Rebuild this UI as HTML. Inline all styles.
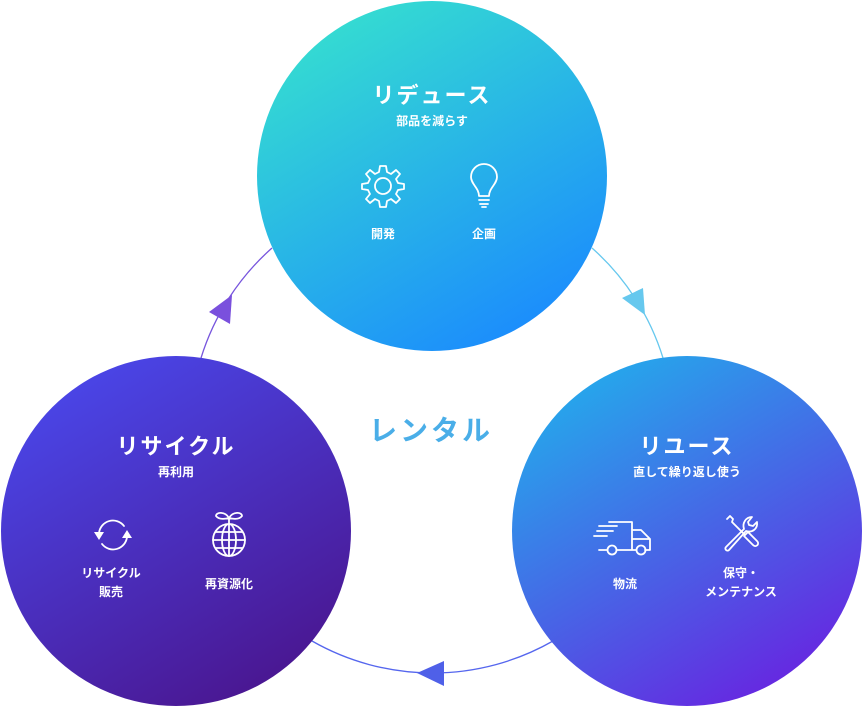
<!DOCTYPE html>
<html><head><meta charset="utf-8"><style>
body{margin:0;background:#fff;}
svg{display:block;font-family:"Liberation Sans","Noto Sans CJK JP",sans-serif;}
.t{font-size:22px;font-weight:bold;fill:#fff;letter-spacing:2px;text-anchor:middle}
.s{font-size:12px;font-weight:bold;fill:#fff;text-anchor:middle}
.l{font-size:12px;font-weight:bold;fill:#fff;text-anchor:middle}
.ic{fill:none;stroke:#fff;stroke-width:1.8;stroke-linecap:round;stroke-linejoin:round}
</style></head><body>
<svg width="863" height="706" viewBox="0 0 863 706">
<defs>
<linearGradient id="g1" x1="0.2" y1="0" x2="0.8" y2="1"><stop offset="0" stop-color="#36e0cf"/><stop offset="1" stop-color="#1a88ff"/></linearGradient>
<linearGradient id="g2" x1="0.2" y1="0" x2="0.8" y2="1"><stop offset="0" stop-color="#4a48ec"/><stop offset="1" stop-color="#4a148c"/></linearGradient>
<linearGradient id="g3" x1="0.2" y1="0" x2="0.8" y2="1"><stop offset="0" stop-color="#22aeec"/><stop offset="1" stop-color="#6a20e0"/></linearGradient>
</defs>
<path d="M272 248 A243 243 0 0 0 201 358" fill="none" stroke="#7755dd" stroke-width="1.3"/>
<path d="M592 248 A243 243 0 0 1 663 358" fill="none" stroke="#66c8ee" stroke-width="1.3"/>
<path d="M312 641 A243 243 0 0 0 553 641" fill="none" stroke="#5566ee" stroke-width="1.3"/>
<polygon points="209,312 232,295 230,324" fill="#7a50dd"/>
<polygon points="622,298 643,288 645,315" fill="#66c8ee"/>
<polygon points="417,673 444,661 444,686" fill="#4f60e8"/>
<circle cx="432" cy="176" r="175" fill="url(#g1)"/>
<circle cx="176" cy="531" r="175" fill="url(#g2)"/>
<circle cx="687" cy="531" r="175" fill="url(#g3)"/>
<text x="431" y="440" font-size="28" font-weight="bold" fill="#4aaee8" text-anchor="middle" letter-spacing="3">レンタル</text>
<text class="t" x="432" y="103">リデュース</text>
<text class="s" x="432" y="125">部品を減らす</text>
<g transform="translate(383,186)">
<path class="ic" d="M-3,-20 L3,-20 L4,-14 L8,-12 L13,-16 L17,-12 L13,-7 L15,-3 L21,-2 L21,3 L15,4 L13,8 L17,13 L13,17 L8,13 L4,15 L3,21 L-3,21 L-4,15 L-8,13 L-13,17 L-17,13 L-13,8 L-15,4 L-21,3 L-21,-2 L-15,-3 L-13,-7 L-17,-12 L-13,-16 L-8,-12 L-4,-14 Z"/>
<circle class="ic" cx="0" cy="0" r="8"/>
</g>
<g transform="translate(484,184)">
<path class="ic" d="M-5,12 C-5,4 -13,0 -13,-7 A13,13 0 1 1 13,-7 C13,0 5,4 5,12 Z"/>
<path class="ic" d="M-5,16 H5 M-4,20 H4 M-2,23 H2"/>
</g>
<text class="l" x="383" y="238">開発</text>
<text class="l" x="484" y="238">企画</text>
<text class="t" x="176" y="454">リサイクル</text>
<text class="s" x="176" y="476">再利用</text>
<g transform="translate(113,535)">
<path class="ic" d="M-14,-2 A14,14 0 0 1 11,-9"/>
<path class="ic" d="M14,2 A14,14 0 0 1 -11,9"/>
<polygon points="-19,-3 -9,-3 -14,5" fill="#fff"/>
<polygon points="19,3 9,3 14,-5" fill="#fff"/>
</g>
<g transform="translate(229,540)">
<circle class="ic" cx="0" cy="0" r="16"/>
<ellipse class="ic" cx="0" cy="0" rx="7" ry="16"/>
<path class="ic" d="M-16,0 H16 M0,-16 V16 M-13,-8 H13 M-13,8 H13"/>
<path class="ic" d="M0,-16 V-22 M0,-22 C-4,-29 -13,-28 -13,-24 C-10,-20 -4,-21 0,-22 M0,-22 C4,-29 13,-28 13,-24 C10,-20 4,-21 0,-22"/>
</g>
<text class="l" x="111" y="577">リサイクル</text>
<text class="l" x="111" y="596">販売</text>
<text class="l" x="229" y="588">再資源化</text>
<text class="t" x="687" y="454">リユース</text>
<text class="s" x="687" y="476">直して繰り返し使う</text>
<g transform="translate(623,538)">
<path class="ic" d="M-12,-16 H9 V12 M9,-8 H18 L27,1 V12 H22 M13,12 H-6 M-16,12 H-24 M-29,-2 H-16 M-26,-7 H-10 M-24,-12 H-6 M-14,-16 H-10 M9,1 H27"/>
<circle class="ic" cx="-11" cy="12" r="4.5"/>
<circle class="ic" cx="18" cy="12" r="4.5"/>
</g>
<g transform="translate(740,534)">
<path class="ic" d="M-13,-15 L-10,-18 L-7,-15 L-8,-12 L5,1 L8,-2 L17,7 C20,10 16,14 13,11 L4,2 L7,-1"/>
<path class="ic" d="M-14,13 L4,-5 C2,-11 6,-17 12,-17 L8,-12 L9,-9 L13,-8 L17,-12 C18,-5 12,-1 6,-3 L-11,16 C-13,18 -16,15 -14,13 Z"/>
</g>
<text class="l" x="625" y="588">物流</text>
<text class="l" x="741" y="577">保守・</text>
<text class="l" x="741" y="596">メンテナンス</text>
</svg>
</body></html>
